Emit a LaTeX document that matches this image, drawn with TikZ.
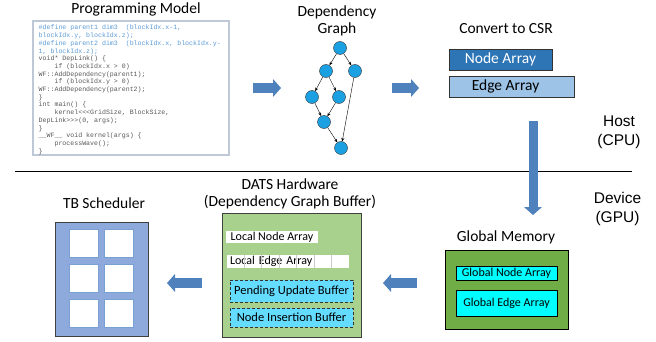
\documentclass[tikz,border=0pt]{standalone}
\usepackage{fontspec}
\setmainfont{Carlito}
\newfontfamily\codefont{Liberation Mono}
\newfontfamily\hostfont{Liberation Sans}
\usepackage{xcolor}
\definecolor{flowblue}{RGB}{79, 129, 189}
\definecolor{codeblue}{RGB}{91, 155, 213}
\definecolor{codegray}{RGB}{89, 89, 89}
\definecolor{codeframe}{RGB}{191, 200, 214}
\definecolor{graphnode}{RGB}{27, 161, 226}
\definecolor{nodearray}{RGB}{46, 117, 182}
\definecolor{edgearray}{RGB}{157, 195, 230}
\definecolor{tbfill}{RGB}{142, 169, 219}
\definecolor{tbcell}{RGB}{120, 160, 210}
\definecolor{datsgreen}{RGB}{169, 209, 142}
\definecolor{memgreen}{RGB}{112, 173, 71}
\definecolor{bufblue}{RGB}{100, 220, 255}
\definecolor{memcyan}{RGB}{0, 255, 255}
\usetikzlibrary{arrows.meta, positioning}

\begin{document}
\begin{tikzpicture}[
    x=1pt, y=-1pt,
    title/.style={font=\fontsize{15.5}{17}\selectfont, align=center, anchor=base, inner sep=0pt},
    side/.style={font=\hostfont\fontsize{15.5}{19}\selectfont, align=center, anchor=base, inner sep=0pt},
    gnode/.style={circle, draw=black!80, fill=graphnode, minimum size=13pt, inner sep=0pt},
    edge/.style={-{Stealth[length=3.5pt, width=3pt]}, thin},
    arraybox/.style={draw=black!80, minimum height=21pt, inner sep=0pt, font=\fontsize{15.5}{17}\selectfont},
    membox/.style={draw=black, fill=memcyan, inner sep=0pt, font=\fontsize{12}{14}\selectfont},
    bufbox/.style={draw=black!80, densely dashed, fill=bufblue, minimum width=123pt, inner sep=0pt, font=\fontsize{12.5}{14}\selectfont},
    cell/.style={draw=tbcell, fill=white, minimum width=29pt, minimum height=28pt, inner sep=0pt},
    blockarrow/.style={line width=10pt, draw=flowblue, -{Triangle[length=8pt, width=18pt, line width=0pt]}}
]

% === Frame ===
\useasboundingbox (0,0) rectangle (656,342);

% === Programming model ===
\node[title] (progtitle) at (136,14) {Programming Model};
\node[draw=codeframe, line width=1.2pt, fill=white, minimum width=196pt, minimum height=134pt] (code) at (131,88) {};
\node[anchor=north west, inner sep=0pt, align=left, text=codegray,
      font=\codefont\fontsize{6.6}{7.7}\selectfont] (codetext) at (38.5,25) {%
\textcolor{codeblue}{\#define parent1 dim3~ (blockIdx.x-1,}\\
\textcolor{codeblue}{blockIdx.y, blockIdx.z);}\\
\textcolor{codeblue}{\#define parent2 dim3~ (blockIdx.x, blockIdx.y-}\\
\textcolor{codeblue}{1, blockIdx.z);}\\
void* DepLink() \{\\
\phantom{xxxx}if (blockIdx.x > 0)\\
WF::AddDependency(parent1);\\
\phantom{xxxx}if (blockIdx.y > 0)\\
WF::AddDependency(parent2);\\
\}\\
int main() \{\\
\phantom{xxxx}kernel<\kern0pt<\kern0pt<GridSize, BlockSize,\\
DepLink>\kern0pt>\kern0pt>(0, args);\\
\}\\
\_\_WF\_\_ void kernel(args) \{\\
\phantom{xxxx}processWave();\\
\}};

% === Dependency graph ===
\node[title] (graphtitle) at (337,33.7) {Dependency\\Graph};
\node[gnode] (root) at (340,48) {};
\node[gnode] (la) at (326,71) {};
\node[gnode] (lb) at (355,71) {};
\node[gnode] (ma) at (312,97) {};
\node[gnode] (mb) at (339,97) {};
\node[gnode] (join) at (324,122) {};
\node[gnode] (sink) at (341,148) {};

\draw[edge] (root) -- (la);
\draw[edge] (root) -- (lb);
\draw[edge] (la) -- (ma);
\draw[edge] (la) -- (mb);
\draw[edge] (ma) -- (join);
\draw[edge] (mb) -- (join);
\draw[edge] (join) -- (sink);
\draw[edge] (lb) -- (sink);

% === CSR ===
\node[title] (csrtitle) at (506,33.3) {Convert to CSR};
\node[arraybox, fill=nodearray, text=white, minimum width=103pt] (narray) at (500.5,59.5) {Node Array};
\node[arraybox, fill=edgearray, minimum width=125pt] (earray) at (511.5,86.5) {Edge Array\hspace*{12pt}};

% === Host / Device ===
\draw[line width=1.5pt] (15,171.5) -- (632,171.5);
\node[side] (host) at (619,146) {Host\\(CPU)};
\node[side] (device) at (617.5,222.7) {Device\\(GPU)};

% === Block arrows ===
\coordinate (a1s) at (253,88);  \coordinate (a1e) at (281,88);
\coordinate (a2s) at (392,88);  \coordinate (a2e) at (419,88);
\coordinate (a3s) at (533,121); \coordinate (a3e) at (533,215);
\coordinate (a4s) at (417,283); \coordinate (a4e) at (383,283);
\coordinate (a5s) at (202,283); \coordinate (a5e) at (167,283);
\draw[blockarrow] (a1s) -- (a1e);
\draw[blockarrow] (a2s) -- (a2e);
\draw[blockarrow, line width=9pt] (a3s) -- (a3e);
\draw[blockarrow] (a4s) -- (a4e);
\draw[blockarrow] (a5s) -- (a5e);

% === Global memory ===
\node[title] (memtitle) at (506,241.7) {Global Memory};
\node[draw=black, fill=memgreen, minimum width=123pt, minimum height=79pt] (mem) at (506.5,289.5) {};
\node[membox, minimum width=101pt, minimum height=14pt] (gnarray) at (506.5,273) {Global Node Array};
\node[membox, minimum width=101pt, minimum height=26pt] (gearray) at (506.5,303) {Global Edge Array};

% === DATS hardware ===
\node[title] (datstitle) at (290,206.7) {DATS Hardware\\(Dependency Graph Buffer)};
\node[draw=black!75, fill=datsgreen, minimum width=139pt, minimum height=124pt] (dats) at (291.5,275) {};
\node[fill=white, minimum width=92pt, minimum height=12pt, inner sep=0pt,
      font=\fontsize{12}{14}\selectfont] (lnarray) at (272,237) {Local Node Array};
\node[fill=white, minimum width=122pt, minimum height=13pt, inner sep=0pt, text width=116pt,
      font=\fontsize{12}{14}\selectfont] (learray) at (288,261.5) {Local Edge Array};
\foreach \i in {1,...,6}
    \draw[black!20] ([xshift=\i*17.43]learray.north west) -- ([xshift=\i*17.43]learray.south west);
\node[bufbox, minimum height=22pt] (pending) at (291.5,291) {Pending Update Buffer};
\node[bufbox, minimum height=19pt] (insert) at (291.5,317.5) {Node Insertion Buffer};

% === TB scheduler ===
\node[title] (tbtitle) at (104,208.3) {TB Scheduler};
\node[draw=black!75, fill=tbfill, minimum width=93pt, minimum height=114pt] (tb) at (101.5,279) {};
\foreach \col/\cx in {l/83.5, r/118.5}
    \foreach \row/\cy in {a/243, b/278, c/313}
        \node[cell] (cell\col\row) at (\cx,\cy) {};

\end{tikzpicture}
\end{document}
